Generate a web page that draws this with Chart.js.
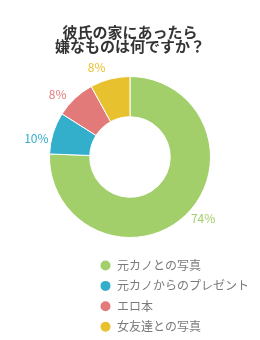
<!DOCTYPE html>
<html>
<head>
<meta charset="utf-8">
<script src="https://cdn.jsdelivr.net/npm/chart.js@4"></script>
<style>
  html, body { margin: 0; padding: 0; background: #fff; }
  #wrap { width: 260px; height: 340px; }
</style>
</head>
<body>
<div id="wrap"><canvas id="chart" width="260" height="340"></canvas></div>
<script>
const titleLines = ["彼氏の家にあったら", "嫌なものは何ですか？"];
const labels = ["元カノとの写真", "元カノからのプレゼント", "エロ本", "女友達との写真"];
// shares as drawn in the picture, and the percentages printed next to them
const values = [75.6, 8.4, 8.0, 8.0];
const pctLabels = ["74%", "10%", "8%", "8%"];
const colors = ["#a3cf6a", "#33afcb", "#e27a7a", "#e8c12e"];

const JP_FONT = '"Noto Sans CJK JP", "Noto Sans", sans-serif';

// percent text outside each slice
const outsideLabels = {
  id: "outsideLabels",
  afterDatasetsDraw(chart) {
    const ctx = chart.ctx;
    const arcs = chart.getDatasetMeta(0).data;
    ctx.save();
    ctx.font = "12px " + JP_FONT;
    ctx.textAlign = "center";
    ctx.textBaseline = "middle";
    arcs.forEach((arc, i) => {
      const p = arc.getProps(["x", "y", "startAngle", "endAngle", "outerRadius"], true);
      const a = (p.startAngle + p.endAngle) / 2 - 6 * Math.PI / 180;
      const r = p.outerRadius + 15;
      ctx.fillStyle = colors[i];
      ctx.fillText(pctLabels[i], p.x + Math.cos(a) * r, p.y + Math.sin(a) * r);
    });
    ctx.restore();
  },
};

// vertical legend under the chart
const listLegend = {
  id: "listLegend",
  afterDraw(chart) {
    const ctx = chart.ctx;
    ctx.save();
    ctx.font = "12px " + JP_FONT;
    ctx.textAlign = "left";
    ctx.textBaseline = "middle";
    labels.forEach((lab, i) => {
      const y = 265.5 + i * 20.4;
      ctx.fillStyle = colors[i];
      ctx.beginPath();
      ctx.arc(105.5, y, 5, 0, Math.PI * 2);
      ctx.fill();
      ctx.fillStyle = "#7a7a7a";
      ctx.fillText(lab, 117, y);
    });
    ctx.restore();
  },
};

new Chart(document.getElementById("chart"), {
  type: "doughnut",
  data: {
    labels: labels,
    datasets: [
      {
        data: values,
        backgroundColor: colors,
        borderColor: "#ffffff",
        borderWidth: 1,
      },
    ],
  },
  options: {
    responsive: false,
    animation: false,
    cutout: "50%",
    layout: { padding: { top: 0, left: 49, right: 49, bottom: 102 } },
    plugins: {
      legend: { display: false },
      tooltip: { enabled: false },
      title: {
        display: true,
        text: titleLines,
        color: "#333333",
        font: { family: JP_FONT, size: 15, weight: "bold", lineHeight: 0.9 },
        padding: { top: 26, bottom: 23 },
      },
    },
  },
  plugins: [outsideLabels, listLegend],
});
</script>
</body>
</html>
